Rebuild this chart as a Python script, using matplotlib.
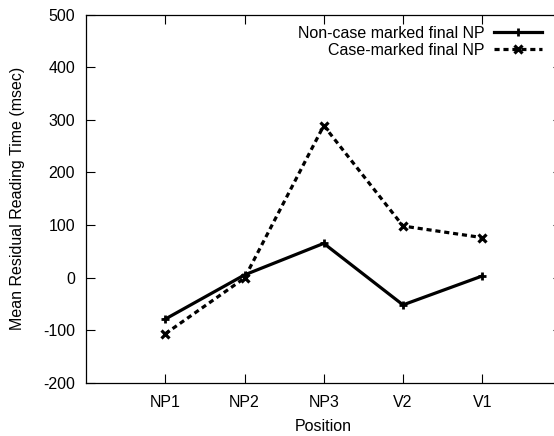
import matplotlib
matplotlib.use("Agg")
import matplotlib.pyplot as plt

categories = ["NP1", "NP2", "NP3", "V2", "V1"]
non_case = [-79, 5, 65, -52, 3]
case_marked = [-107, -1, 289, 98, 76]
yticks = [-200, -100, 0, 100, 200, 300, 400, 500]

plt.rcParams['font.family'] = ['Liberation Sans', 'DejaVu Sans']
plt.rcParams['font.size'] = 11.5
plt.rcParams['axes.unicode_minus'] = False

W, H = 554, 436
fig = plt.figure(figsize=(W / 100, H / 100), dpi=100)
left, right, top, bottom = 86, 561.5, 14.7, 382.7
ax = fig.add_axes([left / W, 1 - bottom / H, (right - left) / W, (bottom - top) / H])

x = list(range(1, len(categories) + 1))
ax.plot(x, non_case, color='black', lw=2.3, marker='+', ms=6, mew=2,
        label='Non-case marked final NP')
ax.plot(x, case_marked, color='black', lw=2.3, ls=(0, (1.6, 1.2)), marker='x', ms=6, mew=2.3,
        label='Case-marked final NP')

ax.set_xlim(0, 6)
ax.set_ylim(-200, 500)
ax.set_xticks(x)
ax.set_xticklabels(categories)
ax.set_yticks(yticks)
ax.tick_params(direction='in', length=6.5, width=0.8, top=True, right=True)
ax.tick_params(axis='y', pad=8)
ax.tick_params(axis='x', pad=9)
for s in ax.spines.values():
    s.set_linewidth(0.9)
ax.set_xlabel('Position', labelpad=6)
ax.set_ylabel('Mean Residual Reading Time (msec)', labelpad=13)

leg = ax.legend(loc='upper right', bbox_to_anchor=(542 / W, 1 - 26 / H),
                bbox_transform=fig.transFigure, frameon=False, markerfirst=False,
                handlelength=3.0, handletextpad=0.6, borderpad=0, borderaxespad=0,
                labelspacing=0.1)
for t in leg.get_texts():
    t.set_ha('right')

fig.savefig('out.png', dpi=100)
